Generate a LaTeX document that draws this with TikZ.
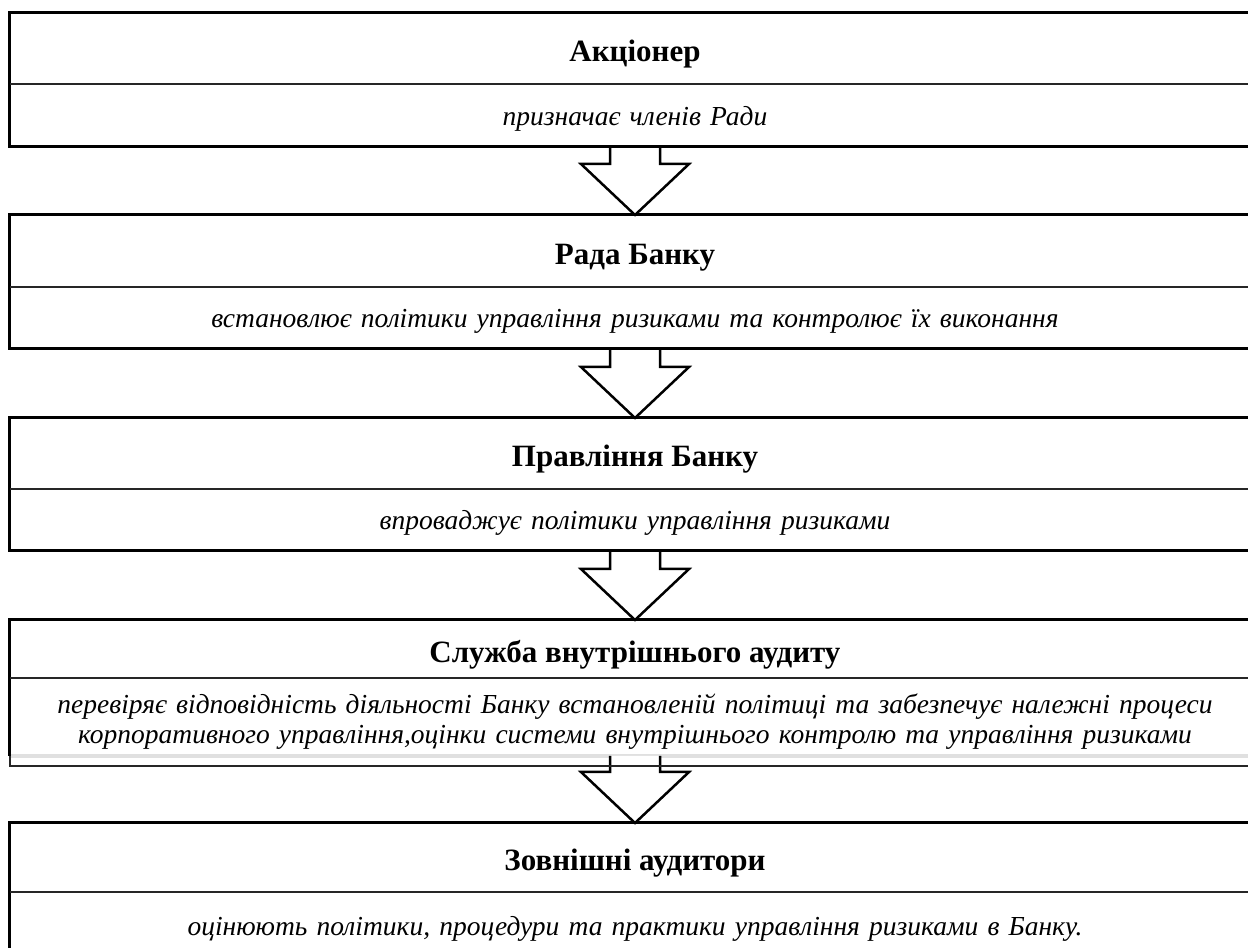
\documentclass[tikz,border=0pt]{standalone}
\usepackage{fontspec}
\setmainfont{Liberation Serif}
\usetikzlibrary{calc}
\tikzset{
  ttl/.style={minimum width=1250pt, inner sep=0pt, anchor=north,
    text height=28pt, text depth=2pt,
    font=\fontsize{31}{34}\selectfont\bfseries},
  dsc/.style={minimum width=1250pt, inner sep=0pt, anchor=north, align=center,
    text width=1240pt, font=\fontsize{27.5}{28}\selectfont\itshape},
  dscone/.style={dsc, text height=21pt, text depth=2pt},
  frame/.style={line width=3pt, black},
  divider/.style={line width=2pt, black!85},
  lowedge/.style={line width=2.2pt, black!85},
  greyband/.style={line width=4pt, black!12},
  bigarrow/.style={line width=2.5pt, fill=white, line join=miter},
}
\newcommand\flowarrow[2]{%
  \draw[bigarrow] let \p1=(#1), \p2=(#2) in
    (\x1-25pt,\y1) -- (\x1-25pt,\y2+51pt) -- (\x1-54pt,\y2+51pt) -- (\x2,\y2)
    -- (\x1+54pt,\y2+51pt) -- (\x1+25pt,\y2+51pt) -- (\x1+25pt,\y1);}
\begin{document}
\begin{tikzpicture}[x=1pt,y=1pt]
\useasboundingbox[fill=white] (0,0) rectangle (1248,948);

% box 1
\node[ttl, minimum height=71pt] (t1) at (635,935) {Акціонер};
\node[dscone, minimum height=62pt] (d1) at (t1.south) {призначає членів Ради};
% box 2
\node[ttl, minimum height=72pt] (t2) at (635,733) {Рада Банку};
\node[dscone, minimum height=61pt] (d2) at (t2.south) {встановлює політики управління ризиками та контролює їх виконання};
% box 3
\node[ttl, minimum height=71pt] (t3) at (635,530) {Правління Банку};
\node[dscone, minimum height=61pt] (d3) at (t3.south) {впроваджує політики управління ризиками};
% box 4
\node[ttl, minimum height=58pt] (t4) at (635,328) {Служба внутрішнього аудиту};
\node[dsc, minimum height=87pt] (d4) at (t4.south) {\vspace{2pt}перевіряє відповідність діяльності Банку встановленій політиці та забезпечує належні процеси\\корпоративного управління,оцінки системи внутрішнього контролю та управління ризиками};
\coordinate (g4) at ($(d4.south)+(0,10pt)$);
% box 5
\node[ttl, minimum height=69pt] (t5) at (635,125) {Зовнішні аудитори};
\node[dscone, minimum height=66pt] (d5) at (t5.south) {оцінюють політики, процедури та практики управління ризиками в Банку.};

% grey band of box 4
\draw[greyband] (d4.south west |- g4) -- (d4.south east |- g4);

% arrows
\flowarrow{d1.south}{t2.north}
\flowarrow{d2.south}{t3.north}
\flowarrow{d3.south}{t4.north}
\flowarrow{g4}{t5.north}

% frames
\foreach \i in {1,2,3}{
  \draw[frame] (t\i.north west) rectangle (d\i.south east);
  \draw[divider] (t\i.south west) -- (t\i.south east);
}
\draw[frame] (d4.south west |- g4) -- (t4.north west) -- (t4.north east);
\draw[divider] (t4.south west) -- (t4.south east);
\draw[lowedge] (d4.south west |- g4) -- (d4.south west) -- (d4.south east);
\draw[frame] (t5.north west) rectangle (d5.south east);
\draw[divider] (t5.south west) -- (t5.south east);
\end{tikzpicture}
\end{document}
